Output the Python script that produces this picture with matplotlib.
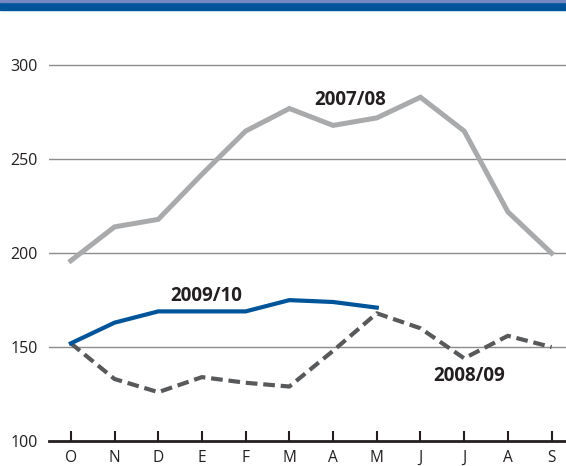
import matplotlib
matplotlib.use("Agg")
import matplotlib.pyplot as plt
from matplotlib.patches import Rectangle

months = ["O", "N", "D", "E", "F", "M", "A", "M", "J", "J", "A", "S"]
s0708 = [196, 214, 218, 242, 265, 277, 268, 272, 283, 265, 222, 200]
s0809 = [152, 133, 126, 134, 131, 129, 148, 168, 160, 144, 156, 150]
s0910 = [152, 163, 169, 169, 169, 175, 174, 171]
yticks = [100, 150, 200, 250, 300]

plt.rcParams["font.family"] = ["Open Sans", "DejaVu Sans"]

fig = plt.figure(figsize=(5.66, 4.66), dpi=100)

# blue band at the top
fig.patches.append(Rectangle((0, 1 - 10 / 466), 1, 10 / 466, transform=fig.transFigure,
                             color="#00559a", zorder=0))
fig.patches.append(Rectangle((0, 1 - 2 / 466), 1, 2 / 466, transform=fig.transFigure,
                             color="#7488c4", zorder=1))

ax = fig.add_axes([49 / 566, 25 / 466, 1 - 49 / 566, 411 / 466])
x = list(range(len(months)))

ax.plot(x, s0708, color="#a9aaac", lw=3.6, solid_joinstyle="miter", zorder=3)
ax.plot(x, s0809, color="#58595b", lw=3.0, dashes=(2.8, 1.4), zorder=3)
ax.plot(x[:len(s0910)], s0910, color="#00559a", lw=3.0, zorder=4)

ax.text(6.38, 281.5, "2007/08", fontsize=13.5, fontweight="bold", color="#231f20",
        ha="center", va="center")
ax.text(3.09, 177, "2009/10", fontsize=13.5, fontweight="bold", color="#231f20",
        ha="center", va="center")
ax.text(9.11, 134.5, "2008/09", fontsize=13.5, fontweight="bold", color="#231f20",
        ha="center", va="center")

ax.set_xlim(-0.5, 11.33)
ax.set_ylim(100, 318.8)
ax.set_xticks(x)
ax.set_xticklabels(months)
ax.set_yticks(yticks)
for v in yticks[1:]:
    ax.axhline(v, color="#8c8c8c", lw=1.0, zorder=1)

for s in ["top", "right", "left"]:
    ax.spines[s].set_visible(False)
ax.spines["bottom"].set_linewidth(2.0)
ax.spines["bottom"].set_color("#231f20")
ax.spines["bottom"].set_zorder(5)

ax.tick_params(axis="x", direction="in", length=7, width=1.5, color="#231f20",
               labelsize=11.2, labelcolor="#231f20", pad=6.5)
ax.tick_params(axis="y", length=0, labelsize=11.5, labelcolor="#231f20", pad=8)

fig.savefig("out.png", dpi=100)
